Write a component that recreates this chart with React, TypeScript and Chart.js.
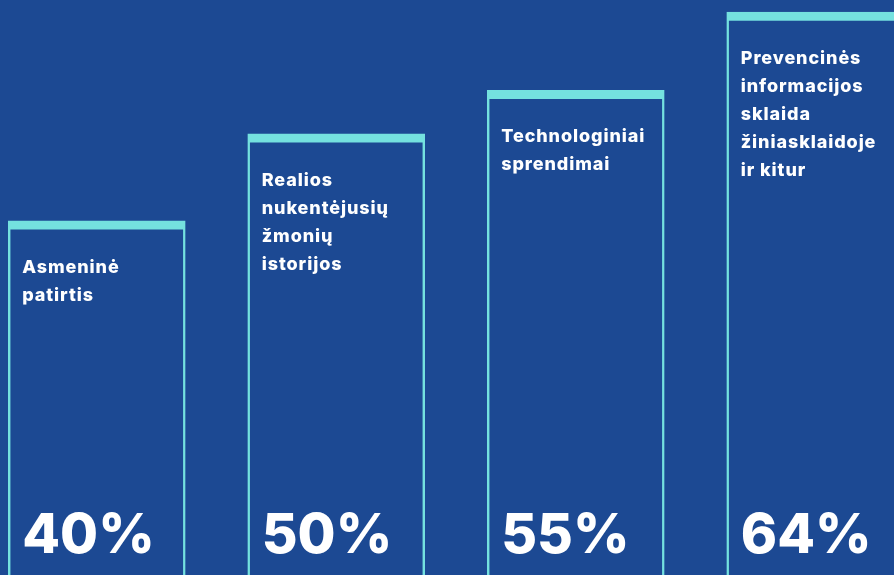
import React, { useEffect, useRef } from "react";
import { Chart, registerables } from "chart.js";

Chart.register(...registerables);

const categories: string[][] = [
  ["Asmeninė", "patirtis"],
  ["Realios", "nukentėjusių", "žmonių", "istorijos"],
  ["Technologiniai", "sprendimai"],
  ["Prevencinės", "informacijos", "sklaida", "žiniasklaidoje", "ir kitur"],
];
const values: number[] = [40, 50, 55, 64];
const valueLabels: string[] = values.map((v) => `${v}%`);

const BG = "#1c4993";
const CYAN = "#74e1df";
const Y_MIN = -1.31;
const Y_MAX = 65.39;
const FONT = "Inter, 'Open Sans', sans-serif";

const textPlugin = {
  id: "barTexts",
  afterDatasetsDraw(chart: any) {
    const ctx = chart.ctx;
    const meta = chart.getDatasetMeta(0);
    const yScale = chart.scales.y;
    const zeroY = yScale.getPixelForValue(0);
    ctx.save();
    ctx.fillStyle = "#ffffff";
    ctx.textAlign = "left";
    ctx.textBaseline = "alphabetic";
    meta.data.forEach((bar: any, i: number) => {
      const left = bar.x - bar.width / 2;
      const top = bar.y;
      ctx.font = `800 18px ${FONT}`;
      (ctx as any).letterSpacing = "0.9px";
      categories[i].forEach((line, j) => {
        ctx.fillText(line, left + 14, top + 52 + j * 28);
      });
      ctx.font = `800 55px ${FONT}`;
      (ctx as any).letterSpacing = "0px";
      ctx.fillText(valueLabels[i], left + 14, zeroY - 16);
    });
    ctx.restore();
  },
};

export default function App() {
  const ref = useRef<HTMLCanvasElement | null>(null);
  useEffect(() => {
    if (!ref.current) return;
    const chart = new Chart(ref.current, {
      type: "bar",
      data: {
        labels: categories.map((c) => c.join(" ")),
        datasets: [
          {
            data: values,
            base: Y_MIN,
            backgroundColor: BG,
            borderColor: CYAN,
            borderWidth: { top: 9, left: 2.5, right: 2.5, bottom: 0 },
            borderSkipped: false,
            barThickness: 177,
          } as any,
        ],
      },
      options: {
        responsive: false,
        animation: false,
        layout: { padding: 0 },
        plugins: {
          legend: { display: false },
          tooltip: { enabled: false },
        },
        scales: {
          x: { display: false, offset: true },
          y: { display: false, min: Y_MIN, max: Y_MAX },
        },
      },
      plugins: [textPlugin],
    });
    return () => chart.destroy();
  }, []);

  return (
    <div
      style={{
        position: "fixed",
        left: 0,
        top: 0,
        width: 894,
        height: 575,
        background: BG,
        overflow: "hidden",
      }}
    >
      <canvas
        ref={ref}
        width={958}
        height={580}
        style={{ position: "absolute", left: -23, top: 0, width: 958, height: 580 }}
      />
    </div>
  );
}
